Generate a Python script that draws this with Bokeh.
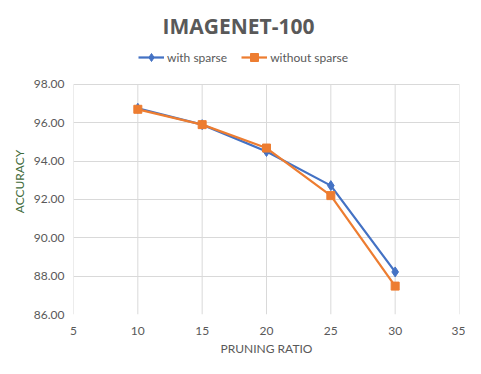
from bokeh.plotting import figure
from bokeh.models import (Legend, LegendItem, FixedTicker, NumeralTickFormatter,
                          Range1d, ColumnDataSource)
from bokeh.embed import file_html
from bokeh.resources import INLINE

pruning_ratio = [10, 15, 20, 25, 30]
with_sparse = [96.75, 95.90, 94.50, 92.72, 88.22]
without_sparse = [96.70, 95.90, 94.68, 92.20, 87.48]
x_ticks = [5, 10, 15, 20, 25, 30, 35]
y_ticks = [86, 88, 90, 92, 94, 96, 98]

FONT = "Lato"
TITLE_FONT = "Open Sans"
GRAY = "#595959"
GRID = "#d9d9d9"

y_min, y_max = y_ticks[0], y_ticks[-1]
p = figure(width=465, height=358, output_backend="svg", toolbar_location=None,
           x_range=Range1d(x_ticks[0], x_ticks[-1]), y_range=Range1d(y_min, 99.87),
           title="IMAGENET-100")
p.outline_line_color = None
p.border_fill_color = "white"
p.background_fill_color = "white"
p.min_border_left = 73
p.min_border_right = 6
p.min_border_top = 48
p.min_border_bottom = 43

# vertical grid lines only over the value span
p.segment(x0=x_ticks, y0=[y_min] * len(x_ticks), x1=x_ticks, y1=[y_max] * len(x_ticks),
          line_color=GRID, line_width=1)

src = ColumnDataSource(dict(x=pruning_ratio, a=with_sparse, b=without_sparse))
l1 = p.line("x", "a", source=src, line_color="#4472C4", line_width=2.25)
m1 = p.scatter("x", "a", source=src, marker="diamond", size=10,
               fill_color="#4472C4", line_color="#4472C4")
l2 = p.line("x", "b", source=src, line_color="#ED7D31", line_width=2.25)
m2 = p.scatter("x", "b", source=src, marker="square", size=8,
               fill_color="#ED7D31", line_color="#ED7D31")

for ax in (p.xaxis[0], p.yaxis[0]):
    ax.major_tick_line_color = None
    ax.minor_tick_line_color = None
    ax.axis_line_color = None
    ax.major_label_text_color = GRAY
    ax.major_label_text_font = FONT
    ax.major_label_text_font_size = "12px"
    ax.axis_label_text_font = FONT
    ax.axis_label_text_font_size = "12px"
    ax.axis_label_text_font_style = "normal"

p.xaxis.ticker = FixedTicker(ticks=x_ticks)
p.yaxis.ticker = FixedTicker(ticks=y_ticks)
p.yaxis.formatter = NumeralTickFormatter(format="0.00")
p.xaxis.axis_label = "PRUNING RATIO"
p.xaxis.axis_label_text_color = GRAY
p.yaxis.axis_label = "ACCURACY"
p.yaxis.axis_label_text_color = "#3f6b3a"
p.xaxis.major_label_standoff = 6
p.xaxis.axis_label_standoff = 3
p.yaxis.major_label_standoff = 3
p.yaxis.axis_label_standoff = 4

p.xgrid.visible = False
p.ygrid.ticker = FixedTicker(ticks=y_ticks)
p.ygrid.grid_line_color = GRID

legend = Legend(items=[LegendItem(label="with sparse", renderers=[l1, m1]),
                       LegendItem(label="without sparse", renderers=[l2, m2])],
                orientation="horizontal", location=(65, 247),
                label_text_font=FONT, label_text_font_size="12px",
                label_text_color=GRAY, border_line_color=None,
                glyph_width=26, spacing=14, padding=4, margin=0,
                label_standoff=3, background_fill_alpha=0)
p.add_layout(legend, "center")

p.title.align = "left"
p.title.offset = 89
p.title.text_font = TITLE_FONT
p.title.text_font_size = "21px"
p.title.text_font_style = "bold"
p.title.text_color = GRAY
p.title.standoff = 17

open("out.html", "w").write(file_html(p, INLINE))
